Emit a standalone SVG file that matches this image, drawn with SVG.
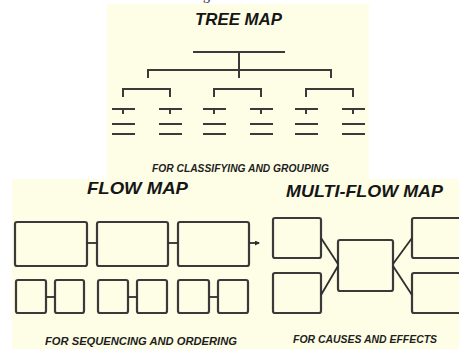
<svg xmlns="http://www.w3.org/2000/svg" width="459" height="349" viewBox="0 0 459 349">
  <style>
    .panel { fill: #FEFEE6; }
    .title { font-family: "Liberation Sans", Arial, sans-serif; font-weight: bold; font-style: italic; font-size: 17px; fill: #161616; }
    .cap { font-family: "Liberation Sans", Arial, sans-serif; font-weight: bold; font-style: italic; font-size: 10px; fill: #1e1e1e; }
    .tree { stroke: #3a3a3a; stroke-width: 2; fill: none; stroke-linecap: butt; }
    .box { fill: #FEFEE6; stroke: #3a3a3a; stroke-width: 2.2; }
    .conn { stroke: #2e2e2e; stroke-width: 1.8; fill: none; }
  </style>
  <defs>
    <marker id="arrow" markerWidth="5" markerHeight="5" refX="4" refY="2.5" orient="auto" markerUnits="userSpaceOnUse">
      <path d="M0,0 L5,2.5 L0,5 Z" fill="#2e2e2e"/>
    </marker>
  </defs>
  <rect width="459" height="349" fill="#ffffff"/>
  <text x="203" y="0" font-family="Liberation Serif, serif" font-size="14" fill="#222">g</text>

  <!-- backgrounds -->
  <rect class="panel" x="107" y="4" width="262" height="176"/>
  <rect class="panel" x="12" y="179" width="447" height="170"/>

  <!-- Tree map -->
  <g id="tree-map">
    <text class="title" x="238.5" y="25" text-anchor="middle" textLength="87" lengthAdjust="spacingAndGlyphs">TREE MAP</text>
    <line class="tree" x1="193" y1="52" x2="285" y2="52" stroke-width="3" stroke="#555"/>
    <line class="tree" x1="239" y1="52" x2="239" y2="78"/>
    <path class="tree" d="M148,78 V70 H331 V78"/>
    <path class="tree" d="M123,97 V89 H170 V97"/>
    <path class="tree" d="M214,97 V89 H261 V97"/>
    <path class="tree" d="M306,97 V89 H353 V97"/>
    <g id="leaves" class="tree" stroke="#444">
      <path d="M112,109 H135 M123,109 V114 M112,124 H135 M112,134 H135"/>
      <path d="M159,109 H182 M170,109 V114 M159,124 H182 M159,134 H182"/>
      <path d="M203,109 H226 M214,109 V114 M203,124 H226 M203,134 H226"/>
      <path d="M250,109 H273 M261,109 V114 M250,124 H273 M250,134 H273"/>
      <path d="M295,109 H318 M306,109 V114 M295,124 H318 M295,134 H318"/>
      <path d="M342,109 H365 M353,109 V114 M342,124 H365 M342,134 H365"/>
    </g>
    <text class="cap" x="240.5" y="172" text-anchor="middle" textLength="177" lengthAdjust="spacingAndGlyphs">FOR CLASSIFYING AND GROUPING</text>
  </g>

  <!-- Flow map -->
  <g id="flow-map">
    <text class="title" x="137.5" y="194" text-anchor="middle" textLength="101" lengthAdjust="spacingAndGlyphs">FLOW MAP</text>
    <g id="flow-a1"><rect class="box" x="15" y="222" width="72" height="44" rx="2"/></g>
    <g id="flow-a2"><rect class="box" x="97" y="222" width="71" height="44" rx="2"/></g>
    <g id="flow-a3"><rect class="box" x="178" y="222" width="71" height="44" rx="2"/></g>
    <g id="flow-b1"><rect class="box" x="16" y="280" width="30" height="33" rx="2"/></g>
    <g id="flow-b2"><rect class="box" x="55" y="280" width="29" height="33" rx="2"/></g>
    <g id="flow-b3"><rect class="box" x="98" y="280" width="30" height="33" rx="2"/></g>
    <g id="flow-b4"><rect class="box" x="137" y="280" width="30" height="33" rx="2"/></g>
    <g id="flow-b5"><rect class="box" x="178" y="280" width="31" height="33" rx="2"/></g>
    <g id="flow-b6"><rect class="box" x="218" y="280" width="30" height="33" rx="2"/></g>
    <text class="cap" x="141" y="345" text-anchor="middle" textLength="192" lengthAdjust="spacingAndGlyphs">FOR SEQUENCING AND ORDERING</text>
  </g>

  <!-- Multi-flow map -->
  <g id="multi-flow-map">
    <text class="title" x="364.5" y="197" text-anchor="middle" textLength="157" lengthAdjust="spacingAndGlyphs">MULTI-FLOW MAP</text>
    <g id="cause-1"><rect class="box" x="273" y="218" width="48" height="40" rx="2"/></g>
    <g id="cause-2"><rect class="box" x="273" y="273" width="48" height="40" rx="2"/></g>
    <g id="event"><rect class="box" x="338" y="240" width="55" height="51" rx="2"/></g>
    <g id="effect-1"><rect class="box" x="412" y="218" width="52" height="40" rx="2"/></g>
    <g id="effect-2"><rect class="box" x="412" y="273" width="52" height="40" rx="2"/></g>
    <text class="cap" x="365" y="343" text-anchor="middle" textLength="144" lengthAdjust="spacingAndGlyphs">FOR CAUSES AND EFFECTS</text>
  </g>

  <!-- Connectors -->
  <g id="connectors" class="conn">
    <line x1="87" y1="243" x2="97" y2="243"/>
    <line x1="168" y1="243" x2="178" y2="243"/>
    <line x1="249" y1="243" x2="259" y2="243" marker-end="url(#arrow)"/>
    <line x1="46" y1="297" x2="55" y2="297"/>
    <line x1="128" y1="297" x2="137" y2="297"/>
    <line x1="209" y1="297" x2="218" y2="297"/>
    <line x1="321" y1="238" x2="338" y2="264"/>
    <line x1="321" y1="295" x2="338" y2="266"/>
    <line x1="393" y1="264" x2="412" y2="238"/>
    <line x1="393" y1="266" x2="412" y2="295"/>
  </g>
</svg>
